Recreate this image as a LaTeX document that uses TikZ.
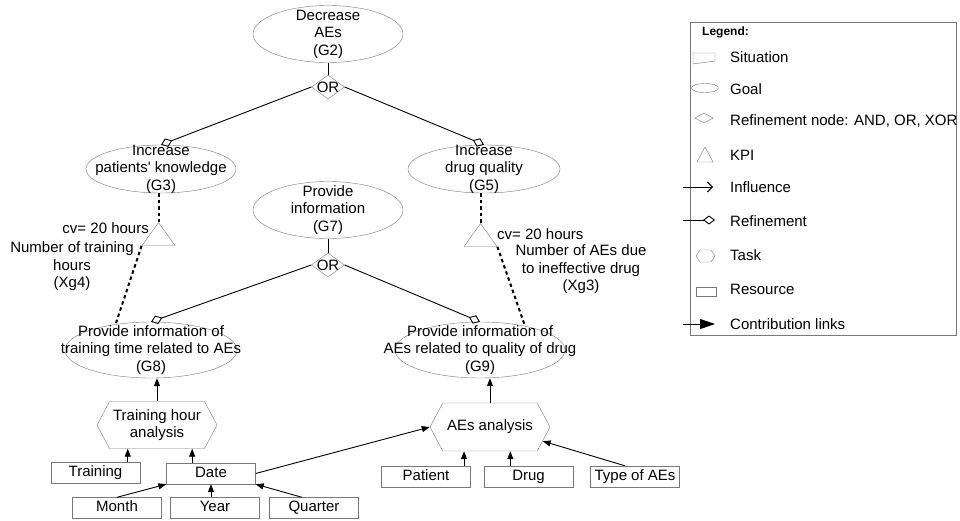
\documentclass[tikz,border=0pt]{standalone}
\usepackage{fontspec}
\setmainfont{Liberation Sans}
\usetikzlibrary{shapes.geometric,shapes.symbols,arrows.meta,positioning}
\definecolor{shapegray}{RGB}{120,120,120}

\begin{document}
\begin{tikzpicture}[x=1pt, y=-1pt,
  every node/.style={font=\fontsize{15}{17.5}\selectfont},
  goal/.style={ellipse, draw=shapegray, align=center, inner xsep=-40pt,
               inner ysep=-12pt, minimum width=150pt, minimum height=57pt},
  refnode/.style={diamond, draw=shapegray, inner sep=-8pt,
                  minimum width=33pt, minimum height=24pt},
  kpi/.style={isosceles triangle, isosceles triangle stretches,
              shape border rotate=90, draw=shapegray, inner sep=0pt,
              minimum width=33pt, minimum height=23pt, anchor=apex},
  task/.style={signal, signal to=west and east, signal pointer angle=124,
               draw=shapegray, align=center, inner sep=0pt,
               minimum width=120pt, minimum height=47pt},
  resource/.style={rectangle, draw=shapegray, inner sep=0pt, text height=10.5pt,
                   text depth=3pt, minimum width=89pt, minimum height=21pt},
  note/.style={inner sep=0pt, align=center},
  legtext/.style={inner sep=0pt, anchor=west},
  link/.style={line width=0.9pt},
  contrib/.style={-{Triangle[length=8pt,width=6pt]}, line width=0.9pt},
  refine/.style={-{Diamond[open,length=12pt,width=9pt]}, line width=0.9pt},
  measure/.style={line width=2pt, dash pattern=on 3.5pt off 3pt}
]
  \useasboundingbox (0,0) rectangle (960,520);

  % goals and refinement nodes
  \node[goal]    (G2)  at (328,34)  {Decrease\\AEs\\(G2)};
  \node[refnode] (or1) at (328,87)  {OR};
  \node[goal, minimum height=48pt] (G3) at (161,169)
    {Increase\\patients\textquotesingle\ knowledge\\(G3)};
  \node[goal, minimum width=152pt, minimum height=48pt] (G5) at (484,169)
    {Increase\\drug quality\\(G5)};
  \node[goal]    (G7)  at (328,210) {Provide\\information\\(G7)};
  \node[refnode] (or2) at (328,265) {OR};
  \node[goal, minimum width=172pt, minimum height=56pt] (G8) at (151,350)
    {Provide information of\\training time related to AEs\\(G8)};
  \node[goal, minimum width=170pt, minimum height=56pt] (G9) at (480,350)
    {Provide information of\\AEs related to quality of drug\\(G9)};

  % KPIs
  \node[kpi] (kpi1) at (158.5,222) {};
  \node[kpi] (kpi2) at (480.5,223) {};
  \node[note, anchor=east] (cv1) at (149,228) {cv= 20 hours};
  \node[note] (kpiname1) at (72,266.5) {Number of training\\hours\\(Xg4)};
  \node[note, anchor=west] (cv2) at (497,234) {cv= 20 hours};
  \node[note] (kpiname2) at (581,269.5) {Number of AEs due\\to ineffective drug\\(Xg3)};

  % tasks and resources
  \node[task] (task1) at (157,425) {Training hour\\analysis};
  \node[task, minimum height=48pt] (task2) at (490,427) {AEs analysis};
  \node[resource] (training) at (95.5,473)  {Training};
  \node[resource] (date)     at (211,473.5) {Date};
  \node[resource] (month)    at (117,508)   {Month};
  \node[resource] (year)     at (215,508)   {Year};
  \node[resource] (quarter)  at (314,508)   {Quarter};
  \node[resource] (patient)  at (426,476.5) {Patient};
  \node[resource] (drug)     at (528.5,476.5) {Drug};
  \node[resource] (typeaes)  at (635,476.5) {Type of AEs};

  \draw[link]   (G2) -- (or1);
  \draw[refine] (or1.west) -- (G3.north);
  \draw[refine] (or1.east) -- (G5.north);
  \draw[link]   (G7) -- (or2);
  \draw[refine] (or2.west) -- (G8.north);
  \draw[refine] (or2.east) -- (G9.north);

  \draw[measure] (G3.south -| kpi1.apex) -- (kpi1.apex);
  \draw[measure] (kpi1.left corner) -- (G8.144);
  \draw[measure] (G5.south -| kpi2.apex) -- (kpi2.apex);
  \draw[measure] (kpi2.right corner) -- (G9.28);

  \draw[contrib] (task1.north) -- (task1.north |- G8.south);
  \draw[contrib] (task2.north) -- (task2.north |- G9.south);
  \draw[contrib] (task1.219 |- training.north) -- (task1.219);
  \draw[contrib] (task1.-34.65 |- date.north) -- (task1.-34.65);
  \draw[contrib] (month.north) -- (date.south west);
  \draw[contrib] (date.south |- year.north) -- (date.south);
  \draw[contrib] ([xshift=-12pt]quarter.north) -- (date.south east);
  \draw[contrib] (date.east) -- (task2.west);
  \draw[contrib] (task2.223.8 |- patient.north) -- (task2.223.8);
  \draw[contrib] (task2.-50.2 |- drug.north) -- (task2.-50.2);
  \draw[contrib] ([xshift=-10pt]typeaes.north) -- (task2.-15);

  % legend
  \draw[shapegray] (690,22) rectangle (956,335);
  \node[legtext, font=\bfseries\fontsize{12}{14}\selectfont] (legend) at (702,32) {Legend:};
  \node[legtext] (lsituation) at (730,57)  {Situation};
  \node[legtext] (lgoal)      at (730,89)  {Goal};
  \node[legtext] (lrefnode)   at (730,121) {Refinement node: AND, OR, XOR};
  \node[legtext] (lkpi)       at (730,155) {KPI};
  \node[legtext] (linfluence) at (730,187) {Influence};
  \node[legtext] (lrefine)    at (730,221) {Refinement};
  \node[legtext] (ltask)      at (730,255) {Task};
  \node[legtext] (lresource)  at (730,289) {Resource};
  \node[legtext] (lcontrib)   at (730,324) {Contribution links};

  \draw[shapegray] (693,53) -- (715,53) -- (715,61) -- (693,64) -- cycle;
  \draw[shapegray] (705,88) ellipse [x radius=13.5, y radius=4.5];
  \draw[shapegray] (695,118) -- (704,113) -- (713,118) -- (704,123) -- cycle;
  \draw[shapegray] (697,162) -- (705,147) -- (713,162) -- cycle;
  \draw[link, -{Straight Barb[length=5pt,width=10pt]}] (683,187) -- (713,187);
  \draw[link, -{Diamond[open,length=12pt,width=9pt]}] (683,220) -- (715,220);
  \draw[shapegray] (696,256) -- (700,250) -- (711,250) -- (715,256) -- (711,262)
    -- (700,262) -- cycle;
  \draw[shapegray] (696,287) rectangle (716,296);
  \draw[link, -{Triangle[length=15pt,width=10pt]}] (683,324) -- (715,324);

\end{tikzpicture}
\end{document}
